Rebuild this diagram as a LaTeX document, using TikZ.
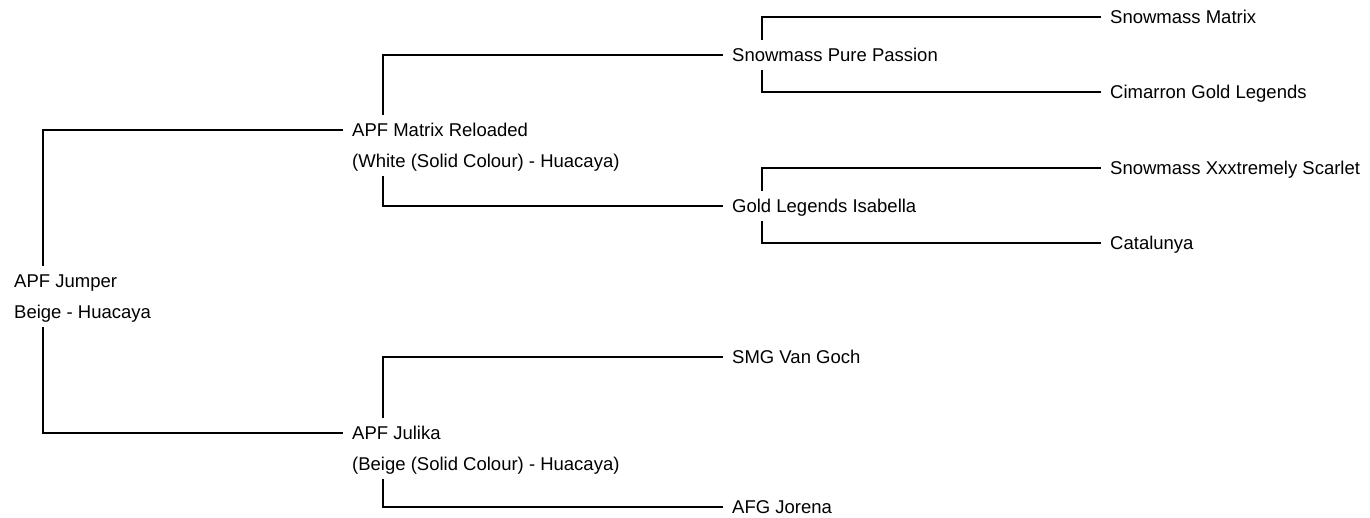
\documentclass[tikz,border=0pt]{standalone}
\usepackage{fontspec}
\setmainfont{Liberation Sans}
\usetikzlibrary{positioning}

\begin{document}
\begin{tikzpicture}[x=1pt,y=-1pt]
		\tikzset{animal/.style = {anchor=west, inner xsep=9pt, inner ysep=0pt, text height=21.5pt, text depth=8.5pt, font=\fontsize{18.5}{22}\selectfont}}
		\tikzset{link/.style = {line width=1.5pt, black}}
		\useasboundingbox (0,0) rectangle (1370,517);
		% vertices
		\node[animal] (jumper) at (5, 281) {APF Jumper};
		\node[animal] (jumperc) at (5, 312) {Beige - Huacaya};
		\node[animal] (reload) at (343, 130) {APF Matrix Reloaded};
		\node[animal] (reloadc) at (343, 161) {(White (Solid Colour) - Huacaya)};
		\node[animal] (julika) at (343, 433) {APF Julika};
		\node[animal] (julikac) at (343, 464) {(Beige (Solid Colour) - Huacaya)};
		\node[animal] (passion) at (723, 55) {Snowmass Pure Passion};
		\node[animal] (isabella) at (723, 206) {Gold Legends Isabella};
		\node[animal] (goch) at (723, 357) {SMG Van Goch};
		\node[animal] (jorena) at (723, 507) {AFG Jorena};
		\node[animal] (smatrix) at (1101, 17) {Snowmass Matrix};
		\node[animal] (cimarron) at (1101, 92) {Cimarron Gold Legends};
		\node[animal] (scarlet) at (1101, 168) {Snowmass Xxxtremely Scarlet};
		\node[animal] (catalunya) at (1101, 243) {Catalunya};
		% edges
		\draw[link] ([xshift=38pt]jumper.north west) |- (reload.west);
		\draw[link] ([xshift=38pt]jumperc.south west) |- (julika.west);
		\draw[link] ([xshift=40pt]reload.north west) |- (passion.west);
		\draw[link] ([xshift=40pt]reloadc.south west) |- (isabella.west);
		\draw[link] ([xshift=40pt]julika.north west) |- (goch.west);
		\draw[link] ([xshift=40pt]julikac.south west) |- (jorena.west);
		\draw[link] ([xshift=39pt]passion.north west) |- (smatrix.west);
		\draw[link] ([xshift=39pt]passion.south west) |- (cimarron.west);
		\draw[link] ([xshift=39pt]isabella.north west) |- (scarlet.west);
		\draw[link] ([xshift=39pt]isabella.south west) |- (catalunya.west);
\end{tikzpicture}
\end{document}
